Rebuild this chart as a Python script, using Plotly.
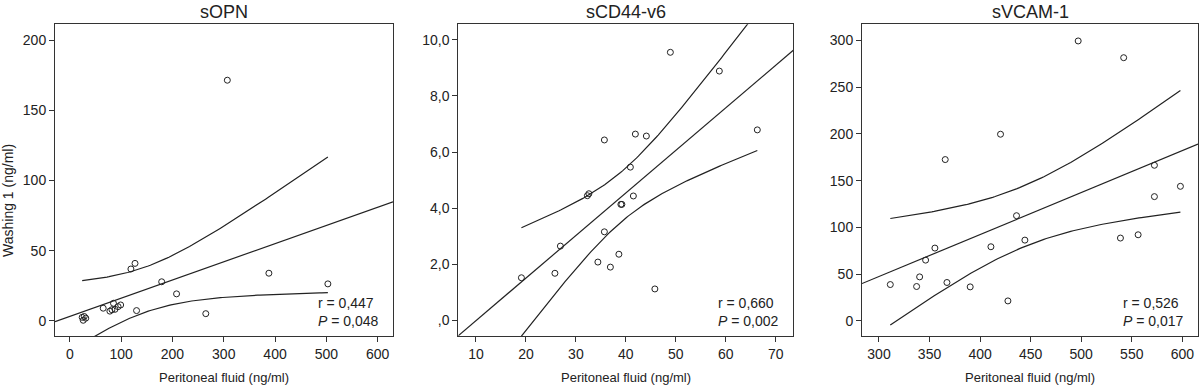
import numpy as np
import plotly.graph_objects as go

# ---------------- data ----------------
titles = ["sOPN", "sCD44-v6", "sVCAM-1"]

opn_x = [24, 28, 31, 26, 65, 78, 82, 85, 88, 94, 99, 119, 127, 130, 179, 208, 265, 307, 388, 503]
opn_y = [2.6, 3.2, 2.0, 0.5, 9.1, 7.0, 8.0, 12.6, 8.3, 10.2, 11.4, 37, 41, 7.4, 27.9, 19.3, 5.2, 171.4, 34, 26.4]

cd44_x = [48.9, 58.7, 66.3, 35.7, 41.9, 44.1, 40.9, 41.5, 32.3, 32.6, 39.0, 39.2,
          35.7, 26.9, 19.1, 25.8, 34.4, 38.6, 36.9, 45.8]
cd44_y = [9.56, 8.89, 6.79, 6.43, 6.64, 6.57, 5.46, 4.43, 4.44, 4.51, 4.13, 4.13,
          3.15, 2.64, 1.51, 1.67, 2.07, 2.35, 1.89, 1.11]

vcam_x = [497, 542, 420.2, 365.5, 572.4, 572.4, 598.1, 436, 538.8, 556.3, 444.3, 410.7,
          355.3, 346.1, 340.2, 337.2, 311.2, 367.2, 390.2, 427.5]
vcam_y = [299.3, 281.4, 199.6, 172.5, 166.4, 132.9, 143.9, 112.5, 88.6, 92.1, 86.4, 79.3,
          77.9, 65, 47.1, 36.8, 38.9, 41.1, 36.4, 21.4]

r_labels = ["0,447", "0,660", "0,526"]
p_labels = ["0,048", "0,002", "0,017"]

x_ranges = [[-29, 630], [6.47, 73.5], [283.2, 615.5]]
y_ranges = [[-10.7, 211.2], [-0.57, 10.56], [-16.1, 317.1]]
x_ticks = [[0, 100, 200, 300, 400, 500, 600], [10, 20, 30, 40, 50, 60, 70],
           [300, 350, 400, 450, 500, 550, 600]]
y_ticks = [[0, 50, 100, 150, 200], [0, 2, 4, 6, 8, 10], [0, 50, 100, 150, 200, 250, 300]]
y_ticktext = [["0", "50", "100", "150", "200"],
              [",0", "2,0", "4,0", "6,0", "8,0", "10,0"],
              ["0", "50", "100", "150", "200", "250", "300"]]

x_title = "Peritoneal fluid (ng/ml)"
y_title = "Washing 1 (ng/ml)"

T_CRIT = 2.100922  # t(0.975, df=18)

# ---------------- layout geometry ----------------
W, H = 1200, 386
x_dom_px = [(55, 393), (458.3, 793.3), (862, 1198)]
y_dom_px = (24.3, 336)
ink = "#222222"
font_family = "Liberation Sans, Arial, sans-serif"

fig = go.Figure()

datasets = [(opn_x, opn_y), (cd44_x, cd44_y), (vcam_x, vcam_y)]
for i, (xs, ys) in enumerate(datasets):
    xs = np.asarray(xs, float)
    ys = np.asarray(ys, float)
    n = len(xs)
    xm, ym = xs.mean(), ys.mean()
    sxx = ((xs - xm) ** 2).sum()
    b = ((xs - xm) * (ys - ym)).sum() / sxx
    a = ym - b * xm
    s = np.sqrt(((ys - (a + b * xs)) ** 2).sum() / (n - 2))

    xa = "x" if i == 0 else f"x{i + 1}"
    ya = "y" if i == 0 else f"y{i + 1}"

    # fit line across the full axis
    xl = np.array(x_ranges[i], float)
    fig.add_trace(go.Scatter(x=xl, y=a + b * xl, mode="lines",
                             line=dict(color=ink, width=1.2), xaxis=xa, yaxis=ya,
                             showlegend=False, hoverinfo="skip"))
    # 95% CI of mean over data range
    xc = np.linspace(xs.min(), xs.max(), 120)
    half = T_CRIT * s * np.sqrt(1.0 / n + (xc - xm) ** 2 / sxx)
    for sign in (1, -1):
        fig.add_trace(go.Scatter(x=xc, y=a + b * xc + sign * half, mode="lines",
                                 line=dict(color=ink, width=1.2), xaxis=xa, yaxis=ya,
                                 showlegend=False, hoverinfo="skip"))
    # points
    fig.add_trace(go.Scatter(x=xs, y=ys, mode="markers",
                             marker=dict(symbol="circle-open", size=6, color=ink,
                                         line=dict(width=1, color=ink)),
                             xaxis=xa, yaxis=ya, showlegend=False))

    x0, x1 = x_dom_px[i]
    common = dict(showgrid=False, zeroline=False, showline=True, mirror=True,
                  linecolor="#333333", linewidth=1, ticks="outside", ticklen=5,
                  tickcolor="#333333", tickfont=dict(family=font_family, size=14, color=ink))
    fig.update_layout(**{
        ("xaxis" if i == 0 else f"xaxis{i + 1}"): dict(
            domain=[x0 / W, x1 / W], range=x_ranges[i], tickvals=x_ticks[i],
            anchor=ya, **common),
        ("yaxis" if i == 0 else f"yaxis{i + 1}"): dict(
            domain=[(H - y_dom_px[1]) / H, (H - y_dom_px[0]) / H], range=y_ranges[i],
            tickvals=y_ticks[i], ticktext=y_ticktext[i], anchor=xa, **common),
    })

    cx = (x0 + x1) / 2 / W
    fig.add_annotation(text=titles[i], x=cx, y=1 - 12 / H, xref="paper", yref="paper",
                       showarrow=False, xanchor="center", yanchor="middle",
                       font=dict(family=font_family, size=18, color=ink))
    fig.add_annotation(text=x_title, x=cx, y=(H - 377) / H, xref="paper", yref="paper",
                       showarrow=False, xanchor="center", yanchor="middle",
                       font=dict(family=font_family, size=13, color=ink))
    fig.add_annotation(text=f"r = {r_labels[i]}<br><i>P</i> = {p_labels[i]}",
                       x=(x1 - 12) / W, y=(H - 331) / H, xref="paper", yref="paper",
                       showarrow=False, xanchor="right", yanchor="bottom", align="left",
                       font=dict(family=font_family, size=14, color=ink))

fig.add_annotation(text=y_title, x=8 / W, y=(H - 201) / H, xref="paper", yref="paper",
                   showarrow=False, xanchor="center", yanchor="middle", textangle=-90,
                   font=dict(family=font_family, size=14, color=ink))

fig.update_layout(width=W, height=H, margin=dict(l=0, r=0, t=0, b=0),
                  plot_bgcolor="white", paper_bgcolor="white")

fig.write_html("out.html", config={"displayModeBar": False},
               post_script="document.body.style.margin='0';document.body.style.overflow='hidden';")
